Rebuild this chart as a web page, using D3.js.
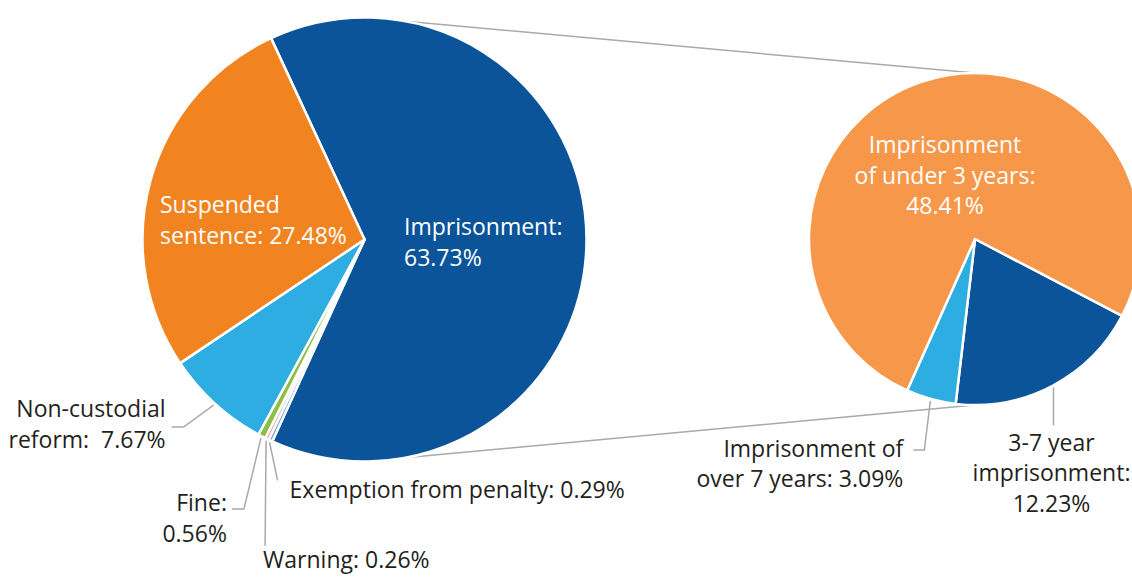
<!DOCTYPE html>
<html>
<head>
<meta charset="utf-8">
<script src="https://d3js.org/d3.v7.min.js"></script>
<style>
  body { margin: 0; background: #fff; }
  text { font-family: "Open Sans", sans-serif; font-size: 23px; white-space: pre; }
</style>
</head>
<body>
<svg width="1132" height="577"></svg>
<script>
// main pie: sentence types
var mainNames = ["Imprisonment", "Exemption from penalty", "Warning", "Fine", "Non-custodial reform", "Suspended sentence"];
var mainValues = [63.73, 0.29, 0.26, 0.56, 7.67, 27.48];
var mainColors = ["#0b5499", "#6fa8dc", "#f08a8a", "#8dbf45", "#2eade2", "#f18421"];
var mainLabels = [["Imprisonment:", "63.73%"], ["Exemption from penalty: 0.29%"], ["Warning: 0.26%"],
                  ["Fine:", "0.56%"], ["Non-custodial", "reform:  7.67%"], ["Suspended", "sentence: 27.48%"]];

// sub pie: breakdown of imprisonment
var subNames = ["3-7 year imprisonment", "Imprisonment of over 7 years", "Imprisonment of under 3 years"];
var subValues = [12.23, 3.09, 48.41];
var subColors = ["#0b5499", "#2eade2", "#f6974a"];
var subLabels = [["3-7 year", "imprisonment:", "12.23%"], ["Imprisonment of", "over 7 years: 3.09%"],
                 ["Imprisonment", "of under 3 years:", "48.41%"]];

var svg = d3.select("svg");
var deg = Math.PI / 180;
var lh = 30.5; // line height

var main = {cx: 364.5, cy: 239.5, r: 222, start: -24.9 * deg};
var sub = {cx: 975, cy: 239, r: 166, start: 117.6 * deg};

// how each label sits: inside (offset from center) or outside (leader from arc)
var mainLayout = [
  {inside: true, dx: 39.5, dy: -4.5, anchor: "start"},
  {pts: [[8, 38]], ldx: 20, ldy: 56, anchor: "start"},
  {pts: [[-1, 105]], ldx: -3, ldy: 127, anchor: "start"},
  {pts: [[-17, 71], [-29, 71]], ldx: -34, ldy: 73, anchor: "end"},
  {pts: [[-30, 22], [-42, 22]], ldx: -48, ldy: 12, anchor: "end"},
  {inside: true, dx: -204.5, dy: -26.5, anchor: "start"}
];
var subLayout = [
  {pts: [[0, 38]], ldx: -2, ldy: 63, anchor: "middle"},
  {pts: [[-6, 49], [-17, 49]], ldx: -27, ldy: 56, anchor: "end"},
  {inside: true, dx: -30, dy: -86, anchor: "middle"}
];

// connector lines between the two pies (behind)
var conn = svg.append("g").attr("stroke", "#a7a9ac").attr("stroke-width", 1.5);
conn.append("line").attr("x1", main.cx).attr("y1", main.cy - main.r).attr("x2", sub.cx).attr("y2", sub.cy - sub.r);
conn.append("line").attr("x1", main.cx).attr("y1", main.cy + main.r).attr("x2", sub.cx).attr("y2", sub.cy + sub.r);

function drawPie(cfg, names, values, colors, labels, layout) {
  var pie = d3.pie().sort(null).startAngle(cfg.start).endAngle(cfg.start + 2 * Math.PI);
  var arcs = pie(values);
  var arc = d3.arc().innerRadius(0).outerRadius(cfg.r);
  var g = svg.append("g").attr("transform", "translate(" + cfg.cx + "," + cfg.cy + ")");

  g.selectAll("path.slice")
    .data(arcs)
    .enter().append("path")
    .attr("class", "slice")
    .attr("d", arc)
    .attr("fill", function(d, i) { return colors[i]; })
    .attr("stroke", "#fff")
    .attr("stroke-width", 2.5)
    .attr("stroke-linejoin", "round");

  arcs.forEach(function(d, i) {
    var L = layout[i];
    var x0, y0, fill;
    if (L.inside) {
      x0 = L.dx; y0 = L.dy; fill = "#fff";
    } else {
      var a = (d.startAngle + d.endAngle) / 2;
      var sx = Math.sin(a) * (cfg.r + 2), sy = -Math.cos(a) * (cfg.r + 2);
      var pts = [[sx, sy]].concat(L.pts.map(function(p) { return [sx + p[0], sy + p[1]]; }));
      g.append("path")
        .attr("d", d3.line()(pts))
        .attr("fill", "none")
        .attr("stroke", "#a7a9ac")
        .attr("stroke-width", 1.5);
      x0 = sx + L.ldx; y0 = sy + L.ldy; fill = "#231f20";
    }
    var t = g.append("text")
      .attr("text-anchor", L.anchor)
      .attr("fill", fill);
    labels[i].forEach(function(line, j) {
      t.append("tspan").attr("x", x0).attr("y", y0 + j * lh).text(line);
    });
  });
}

drawPie(main, mainNames, mainValues, mainColors, mainLabels, mainLayout);
drawPie(sub, subNames, subValues, subColors, subLabels, subLayout);
</script>
</body>
</html>
